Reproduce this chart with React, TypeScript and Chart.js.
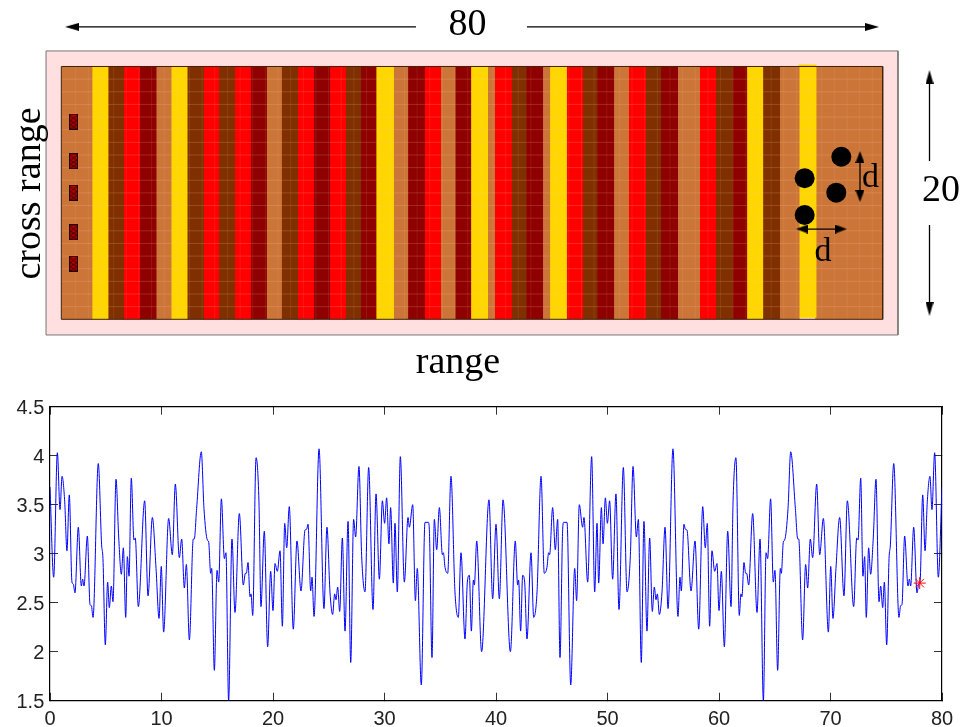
import React, { useEffect, useRef } from "react";
import { Chart, registerables } from "chart.js";

Chart.register(...registerables);

// ---------- top panel: layered medium ----------
const stripeEdges = [0, 3.05, 4.61, 6.10, 7.66, 9.29, 10.75, 12.31, 13.90, 15.39, 16.92, 18.47, 20.03, 21.49, 23.05, 24.61, 26.20, 27.73, 29.19, 30.71, 32.40, 33.80, 35.42, 36.98, 38.41, 39.94, 41.56, 42.24, 43.89, 45.33, 46.95, 47.63, 49.25, 50.84, 52.24, 53.86, 55.29, 56.95, 58.41, 60.07, 62.21, 63.77, 65.42, 66.82, 68.38, 70.00, 71.92, 73.57, 80];
const stripeKinds = ["tan", "gold", "brown", "red", "dark", "tan", "gold", "brown", "red", "brown", "red", "dark", "tan", "brown", "red", "dark", "red", "brown", "dark", "gold", "tan", "dark", "red", "tan", "dark", "gold", "tan", "red", "brown", "dark", "tan", "gold", "red", "brown", "dark", "tan", "red", "brown", "dark", "tan", "red", "brown", "dark", "gold", "brown", "tan", "gold", "tan"];
const sourceRange = [1.19, 1.19, 1.19, 1.19, 1.19];
const sourceCross = [15.64, 12.50, 10.02, 6.88, 4.40];
const scattererRange = [75.97, 72.40, 75.48, 72.40];
const scattererCross = [12.86, 11.16, 10.02, 8.25];

// ---------- bottom panel: response along range ----------
const rangeValues = [0, 0.33, 0.66, 0.90, 1.08, 1.32, 1.52, 1.73, 1.97, 2.09, 2.24, 2.54, 2.81, 2.93, 3.05, 3.35, 3.59, 3.71, 3.86, 4.33, 4.63, 4.75, 4.96, 5.17, 5.32, 5.50, 5.65, 5.92, 6.16, 6.40, 6.58, 6.79, 6.94, 7.09, 7.29, 7.53, 7.65, 7.92, 8.49, 8.79, 9.18, 9.51, 9.78, 9.98, 10.19, 10.64, 10.97, 11.24, 11.60, 11.81, 12.05, 12.23, 12.50, 12.85, 12.94, 13.15, 13.57, 13.81, 14.11, 14.23, 14.41, 14.50, 14.74, 14.98, 15.13, 15.37, 15.64, 15.78, 16.02, 16.32, 16.59, 16.98, 17.34, 17.52, 17.61, 17.76, 17.94, 18.03, 18.18, 18.48, 18.74, 18.92, 19.22, 19.52, 19.79, 20.00, 20.18, 20.39, 20.63, 20.84, 21.05, 21.23, 21.46, 21.82, 22.15, 22.51, 22.87, 23.02, 23.14, 23.38, 23.50, 23.68, 24.13, 24.57, 24.84, 25.11, 25.35, 25.53, 25.65, 25.80, 25.98, 26.22, 26.46, 26.73, 26.97, 27.23, 27.41, 27.71, 27.95, 28.25, 28.58, 28.97, 29.24, 29.54, 29.81, 30.01, 30.19, 30.40, 30.55, 30.79, 30.94, 31.15, 31.42, 31.78, 32.11, 32.23, 32.53, 32.77, 32.94, 33.30, 33.63, 33.93, 34.02, 34.26, 34.47, 34.68, 34.92, 35.19, 35.28, 35.43, 35.67, 35.96, 36.32, 36.62, 36.86, 37.22, 37.43, 37.61, 37.79, 37.97, 38.06, 38.27, 38.71, 39.37, 39.70, 40.00,
  40.30, 40.63, 41.29, 41.73, 41.94, 42.03, 42.21, 42.39, 42.57, 42.78, 43.14, 43.38, 43.68, 44.04, 44.33, 44.57, 44.72, 44.81, 45.08, 45.32, 45.53, 45.74, 45.98, 46.07, 46.37, 46.70, 47.06, 47.23, 47.47, 47.77, 47.89, 48.22, 48.58, 48.85, 49.06, 49.21, 49.45, 49.60, 49.81, 49.99, 50.19, 50.46, 50.76, 51.03, 51.42, 51.75, 52.05, 52.29, 52.59, 52.77, 53.03, 53.27, 53.54, 53.78, 54.02, 54.20, 54.35, 54.47, 54.65, 54.89, 55.16, 55.43, 55.87, 56.32, 56.50, 56.62, 56.86, 56.98, 57.13, 57.49, 57.85, 58.18, 58.54, 58.77, 58.95, 59.16, 59.37, 59.61, 59.82, 60.00, 60.21, 60.48, 60.78, 61.08, 61.26, 61.52, 61.82, 61.97, 62.06, 62.24, 62.39, 62.48, 62.66, 63.02, 63.41, 63.68, 63.98, 64.22, 64.36, 64.63, 64.87, 65.02, 65.26, 65.50, 65.59, 65.77, 65.89, 66.19, 66.43, 66.85, 67.06, 67.15, 67.50, 67.77, 67.95, 68.19, 68.40, 68.76, 69.03, 69.36, 69.81, 70.02, 70.22, 70.49, 70.82, 71.21, 71.51, 72.08, 72.35, 72.47, 72.71, 72.91, 73.06, 73.21, 73.42, 73.60, 73.84, 74.08, 74.35, 74.50, 74.68, 74.83, 75.04, 75.25, 75.37, 75.67, 76.14, 76.29, 76.41, 76.65, 76.95, 77.07, 77.19, 77.46, 77.76, 77.91, 78.03, 78.27, 78.48, 78.68, 78.92, 79.10, 79.34, 79.67, 80];
const responseValues = [3.68, 2.76, 4.03, 3.45, 3.79, 3.53, 3.03, 3.60, 2.71, 2.69, 2.60, 3.27, 2.67, 2.74, 2.67, 3.18, 2.48, 2.47, 2.35, 3.92, 3.09, 2.95, 2.07, 2.71, 2.45, 2.67, 2.51, 3.76, 3.17, 2.79, 3.06, 2.35, 2.97, 2.77, 3.77, 3.14, 3.16, 2.46, 3.54, 2.57, 3.37, 2.85, 2.34, 2.87, 2.20, 3.36, 2.99, 3.71, 2.96, 3.15, 2.65, 2.89, 2.12, 3.15, 3.15, 3.46, 4.04, 3.46, 3.14, 3.12, 2.80, 2.85, 1.81, 2.83, 2.71, 3.56, 2.95, 3.01, 1.50, 3.15, 2.40, 3.41, 2.68, 2.80, 2.80, 2.91, 2.56, 2.59, 2.37, 3.98, 3.53, 2.46, 3.23, 2.05, 2.82, 2.42, 2.90, 2.82, 3.03, 2.26, 3.31, 3.06, 3.48, 2.23, 3.13, 2.62, 3.24, 3.25, 3.30, 2.62, 2.76, 2.36, 4.07, 2.44, 3.27, 2.61, 2.38, 2.59, 2.53, 2.66, 2.41, 3.16, 2.21, 3.33, 1.89, 3.35, 3.17, 3.89, 2.98, 2.61, 3.88, 2.43, 3.61, 2.74, 3.54, 3.31, 3.57, 3.10, 3.47, 2.70, 3.31, 2.61, 3.99, 2.71, 3.37, 3.27, 3.50, 2.52, 2.85, 1.66, 3.32, 3.32, 3.25, 1.94, 3.35, 3.04, 3.47, 2.99, 3.01, 2.86, 2.80, 3.79, 2.61, 2.35, 3.01, 2.13, 2.71, 2.78, 2.21, 2.73, 2.68, 3.13, 2.00, 3.55, 2.54, 3.30,
  2.54, 3.55, 2.00, 3.13, 2.68, 2.73, 2.21, 2.78, 2.71, 2.13, 3.01, 2.35, 2.61, 3.79, 2.80, 2.86, 3.01, 2.99, 3.47, 3.04, 3.35, 1.94, 3.25, 3.32, 3.32, 1.66, 2.85, 2.52, 3.50, 3.27, 3.37, 2.71, 3.99, 2.61, 3.31, 2.70, 3.47, 3.10, 3.57, 3.31, 3.54, 2.74, 3.61, 2.43, 3.88, 2.61, 2.98, 3.89, 3.17, 3.35, 1.89, 3.33, 2.21, 3.16, 2.41, 2.66, 2.53, 2.59, 2.38, 2.61, 3.27, 2.44, 4.07, 2.36, 2.76, 2.62, 3.30, 3.25, 3.24, 2.62, 3.13, 2.23, 3.48, 3.06, 3.31, 2.26, 3.03, 2.82, 2.90, 2.42, 2.82, 2.05, 3.23, 2.46, 3.53, 3.98, 2.37, 2.59, 2.56, 2.91, 2.80, 2.80, 2.68, 3.41, 2.40, 3.15, 1.50, 3.01, 2.95, 3.56, 2.71, 2.83, 1.81, 2.85, 2.80, 3.12, 3.14, 3.46, 4.04, 3.46, 3.15, 3.15, 2.12, 2.89, 2.65, 3.15, 2.96, 3.71, 2.99, 3.36, 2.20, 2.87, 2.34, 2.85, 3.37, 2.57, 3.54, 2.46, 3.16, 3.14, 3.77, 2.77, 2.97, 2.35, 3.06, 2.79, 3.17, 3.76, 2.51, 2.67, 2.45, 2.71, 2.07, 2.95, 3.09, 3.92, 2.35, 2.47, 2.48, 3.18, 2.67, 2.74, 2.67, 3.27, 2.60, 2.69, 2.71, 3.60, 3.03, 3.53, 3.79, 3.45, 4.03, 2.76, 3.68];
const markerRange = [78.0];
const markerResponse = [2.70];

const stripeColors: Record<string, string> = { tan: "#cc7539", gold: "#ffd600", brown: "#803000", red: "#ff0000", dark: "#8f0000" };

const serif = '"Liberation Serif", "Times New Roman", serif';
const sans = '"Liberation Sans", Arial, sans-serif';

function rect(x0: number, x1: number, y0: number, y1: number) {
  return [{ x: x0, y: y0 }, { x: x0, y: y1 }, { x: x1, y: y1 }, { x: x1, y: y0 }, { x: x0, y: y0 }];
}

function arrowHead(length: number, width: number) {
  const c = document.createElement("canvas");
  c.width = length;
  c.height = width;
  const g = c.getContext("2d")!;
  g.fillStyle = "#000";
  g.beginPath();
  g.moveTo(0, 0);
  g.lineTo(length, width / 2);
  g.lineTo(0, width);
  g.closePath();
  g.fill();
  return c;
}

function sourceGlyph() {
  const c = document.createElement("canvas");
  c.width = 9;
  c.height = 16;
  const g = c.getContext("2d")!;
  g.fillStyle = "#b00000";
  g.fillRect(0, 0, 9, 16);
  g.strokeStyle = "#200000";
  g.lineWidth = 1;
  g.strokeRect(0.5, 0.5, 8, 15);
  g.beginPath();
  g.moveTo(1, 2); g.lineTo(8, 7); g.lineTo(1, 11); g.lineTo(8, 15);
  g.moveTo(8, 2); g.lineTo(1, 7); g.lineTo(8, 11); g.lineTo(1, 15);
  g.lineWidth = 0.7;
  g.stroke();
  return c;
}

const shape = { pointRadius: 0, pointHoverRadius: 0, tension: 0 };

function arrowDataset(points: { x: number; y: number }[], head: HTMLCanvasElement, radii: number[], rotations: number[]) {
  return {
    type: "line", data: points, borderColor: "#000", borderWidth: 1.3, fill: false, tension: 0, order: 1,
    pointStyle: head, pointRadius: radii, pointRotation: rotations, pointBackgroundColor: "#000", pointBorderWidth: 0,
  };
}

const annotations = {
  id: "annotations",
  afterDraw(chart: any) {
    const g = chart.ctx;
    g.save();
    g.fillStyle = "#000";
    g.textAlign = "center";
    g.textBaseline = "alphabetic";
    g.font = `38px ${serif}`;
    g.fillText("80", 467.5, 35);
    g.fillText("20", 941, 201);
    g.fillText("range", 458, 373);
    g.save();
    g.translate(40, 193.5);
    g.rotate(-Math.PI / 2);
    g.fillText("cross range", 0, 0);
    g.restore();
    g.font = `34px ${serif}`;
    g.fillText("d", 870.5, 187);
    g.fillText("d", 823, 261);
    g.restore();
  },
};

export default function App() {
  const topRef = useRef<HTMLCanvasElement>(null);
  const bottomRef = useRef<HTMLCanvasElement>(null);

  useEffect(() => {
    const gridCols: any[] = [];
    for (let i = 0; i <= 63; i++) {
      const v = 1.4 + i * 1.2315;
      gridCols.push({ x: v, y: 0 }, { x: v, y: 20 }, { x: v, y: NaN });
    }
    const gridRows: any[] = [];
    for (let v = 1; v < 20; v++) {
      gridRows.push({ x: 0, y: v }, { x: 80, y: v }, { x: 80, y: NaN });
    }

    const stripes = stripeKinds.map((kind, i) => {
      const tall = i === 46;
      const y0 = tall ? 0.12 : 0;
      const y1 = tall ? 20.16 : 20;
      // each stripe runs slightly under its left neighbour, so no seam shows between them
      const start = i === 0 ? stripeEdges[i] : stripeEdges[i] - 0.15;
      return {
        type: "line", data: [{ x: start, y: y1 }, { x: stripeEdges[i + 1], y: y1 }], ...shape,
        borderWidth: 0, borderColor: "transparent", backgroundColor: stripeColors[kind], fill: { value: y0 }, order: 10,
      };
    });

    const hHead = arrowHead(14, 8);
    const dHead = arrowHead(12, 9);

    const top = new Chart(topRef.current!, {
      type: "line",
      data: {
        datasets: [
          ...stripes,
          { type: "line", data: [{ x: -1.49, y: 21.23 }, { x: 81.49, y: 21.23 }], ...shape, borderWidth: 0, borderColor: "transparent", backgroundColor: "#ffdfdf", fill: { value: -1.24 }, order: 21 },
          { type: "line", data: rect(-1.49, 81.49, -1.24, 21.23), ...shape, borderColor: "#777", borderWidth: 1, fill: false, order: 20 },
          { type: "line", data: rect(0, 80, 0, 20), ...shape, borderColor: "#3c2208", borderWidth: 1, fill: false, order: 4 },
          { type: "line", data: gridCols, ...shape, borderColor: "rgba(255,225,190,0.09)", borderWidth: 1, fill: false, order: 6 },
          { type: "line", data: gridRows, ...shape, borderColor: "rgba(255,200,150,0.2)", borderWidth: 1, fill: false, order: 6 },
          {
            type: "scatter", data: sourceRange.map((x, i) => ({ x, y: sourceCross[i] })),
            pointStyle: sourceGlyph(), pointRadius: 5, order: 2,
          },
          {
            type: "scatter", data: scattererRange.map((x, i) => ({ x, y: scattererCross[i] })),
            pointStyle: "circle", pointRadius: 10, pointBackgroundColor: "#000", pointBorderWidth: 0, order: 2,
          },
          arrowDataset([{ x: 34.54, y: 23.13 }, { x: 1.04, y: 23.13 }], hHead, [0, 5], [0, 180]),
          arrowDataset([{ x: 45.35, y: 23.13 }, { x: 78.96, y: 23.13 }], hHead, [0, 5], [0, 0]),
          arrowDataset([{ x: 84.56, y: 12.52 }, { x: 84.56, y: 19.17 }], hHead, [0, 5], [0, -90]),
          arrowDataset([{ x: 84.56, y: 7.46 }, { x: 84.56, y: 0.81 }], hHead, [0, 5], [0, 90]),
          arrowDataset([{ x: 77.79, y: 12.84 }, { x: 77.79, y: 9.75 }], dHead, [5, 5], [-90, 90]),
          arrowDataset([{ x: 72.14, y: 7.14 }, { x: 75.94, y: 7.14 }], dHead, [5, 5], [180, 0]),
        ] as any,
      },
      options: {
        responsive: false,
        animation: false,
        events: [],
        layout: { autoPadding: false, padding: 0 },
        plugins: { legend: { display: false }, tooltip: { enabled: false } },
        scales: {
          x: { type: "linear", min: -5.973, max: 87.725, display: false },
          y: { type: "linear", min: -5.593, max: 25.26, display: false },
        },
      } as any,
      plugins: [annotations],
    });

    const fixSize = (size: number) => (s: any) => {
      if (s.isHorizontal()) s.height = size;
      else s.width = size;
      s.paddingTop = s.paddingBottom = s.paddingLeft = s.paddingRight = 0;
    };
    const inwardGrid = { drawOnChartArea: false, drawTicks: true, tickLength: -8, tickColor: "#333", tickWidth: 1 };
    const border = { display: true, color: "#000", width: 1.2 };

    const bottom = new Chart(bottomRef.current!, {
      type: "line",
      data: {
        datasets: [
          {
            type: "scatter", data: markerRange.map((x, i) => ({ x, y: markerResponse[i] })),
            pointStyle: "star", pointRadius: 6, pointBorderColor: "#ff0000", pointBorderWidth: 1, order: 1, clip: false,
          },
          {
            type: "line", data: rangeValues.map((x, i) => ({ x, y: responseValues[i] })),
            borderColor: "#0000ff", borderWidth: 1, pointRadius: 0, cubicInterpolationMode: "monotone", fill: false, order: 2,
          },
        ] as any,
      },
      options: {
        responsive: false,
        animation: false,
        events: [],
        layout: { autoPadding: false, padding: { left: 0, right: 20, top: 16.7, bottom: 0 } },
        plugins: { legend: { display: false }, tooltip: { enabled: false } },
        scales: {
          x: {
            type: "linear", position: "bottom", min: 0, max: 80, afterFit: fixSize(26.3), border, grid: inwardGrid,
            ticks: { stepSize: 10, autoSkip: false, maxRotation: 0, minRotation: 0, padding: 15, color: "#222", font: { family: sans, size: 20 }, callback: (v: number) => String(v) },
          },
          y: {
            type: "linear", position: "left", min: 1.5, max: 4.5, afterFit: fixSize(50), border, grid: inwardGrid,
            ticks: { stepSize: 0.5, autoSkip: false, padding: 13.7, labelOffset: 2, color: "#222", font: { family: sans, size: 20 }, callback: (v: number) => String(v) },
          },
          x2: {
            type: "linear", axis: "x", position: "top", min: 0, max: 80, afterFit: fixSize(0), border, grid: inwardGrid,
            ticks: { stepSize: 10, display: false },
          },
          y2: {
            type: "linear", axis: "y", position: "right", min: 1.5, max: 4.5, afterFit: fixSize(0), border, grid: inwardGrid,
            ticks: { stepSize: 0.5, display: false },
          },
        },
      } as any,
    });

    return () => {
      top.destroy();
      bottom.destroy();
    };
  }, []);

  return (
    <div style={{ position: "absolute", left: 0, top: 0, width: 962, height: 727, background: "#fff" }}>
      <canvas ref={topRef} width={962} height={390} style={{ position: "absolute", left: 0, top: 0, width: 962, height: 390 }} />
      <canvas ref={bottomRef} width={962} height={337} style={{ position: "absolute", left: 0, top: 390, width: 962, height: 337 }} />
    </div>
  );
}
